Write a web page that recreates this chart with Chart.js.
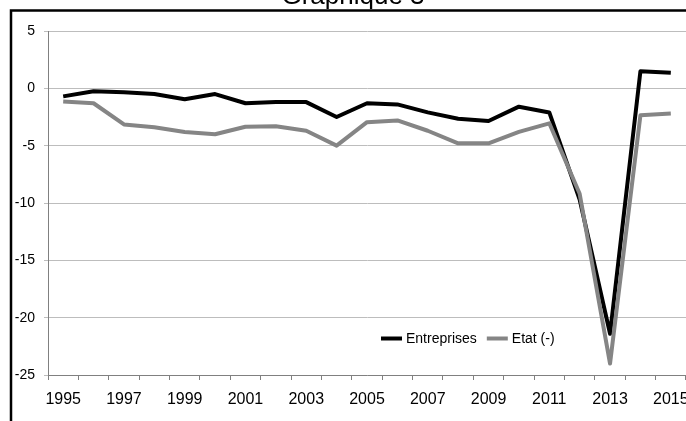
<!DOCTYPE html>
<html>
<head>
<meta charset="utf-8">
<title>Graphique 3</title>
<script src="https://cdn.jsdelivr.net/npm/chart.js@4.4.1/dist/chart.umd.min.js"></script>
<style>
  html, body { margin: 0; padding: 0; background: #fff; overflow: hidden; }
  #chart { display: block; }
</style>
</head>
<body>
<canvas id="chart" width="686" height="421"></canvas>
<script>
const years = ["1995","1996","1997","1998","1999","2000","2001","2002","2003","2004","2005",
  "2006","2007","2008","2009","2010","2011","2012","2013","2014","2015"];
const entreprises = [-0.7, -0.25, -0.35, -0.5, -0.95, -0.5, -1.3, -1.2, -1.2, -2.5, -1.3,
  -1.4, -2.1, -2.65, -2.85, -1.6, -2.1, -9.7, -21.4, 1.5, 1.35];
const etat = [-1.15, -1.3, -3.15, -3.4, -3.8, -4.0, -3.35, -3.3, -3.7, -5.0, -2.95,
  -2.8, -3.7, -4.8, -4.8, -3.8, -3.05, -9.2, -24.0, -2.35, -2.2];
const yTicks = [5, 0, -5, -10, -15, -20, -25];
const title = "Graphique 3";

const font = "'Liberation Sans', Arial, sans-serif";
const ctx = document.getElementById("chart");

// frame + title (the title is cut off at the top, like the picture)
const framePlugin = {
  id: "frame",
  beforeDraw(chart) {
    const c = chart.ctx;
    c.save();
    c.fillStyle = "#000";
    c.font = "26px " + font;
    c.textAlign = "center";
    c.textBaseline = "alphabetic";
    c.fillText(title, 353, 4);
    c.fillStyle = "#fff";
    c.fillRect(11, 11, 686, 421);
    c.strokeStyle = "#000";
    c.lineWidth = 2.5;
    c.beginPath();
    c.moveTo(11, 421);
    c.lineTo(11, 10.5);
    c.lineTo(686, 10.5);
    c.stroke();
    c.restore();
  }
};

// legend sits inside the plot, bottom right
const legendPlugin = {
  id: "insideLegend",
  afterDatasetsDraw(chart) {
    const c = chart.ctx;
    let x = 381;
    const y = 338.5;
    c.save();
    c.font = "14px " + font;
    c.textBaseline = "middle";
    chart.data.datasets.forEach((ds) => {
      c.strokeStyle = ds.borderColor;
      c.lineWidth = 4;
      c.beginPath();
      c.moveTo(x, y);
      c.lineTo(x + 21, y);
      c.stroke();
      c.fillStyle = "#000";
      c.fillText(ds.label, x + 25, y + 1);
      x += 25 + c.measureText(ds.label).width + 10;
    });
    c.restore();
  }
};

new Chart(ctx, {
  type: "line",
  data: {
    labels: years,
    datasets: [
      {
        label: "Entreprises",
        data: entreprises,
        borderColor: "#000000",
        backgroundColor: "#000000",
        borderWidth: 4,
        pointRadius: 0,
        borderJoinStyle: "round",
        tension: 0,
        order: 1
      },
      {
        label: "Etat (-)",
        data: etat,
        borderColor: "#858585",
        backgroundColor: "#858585",
        borderWidth: 4,
        pointRadius: 0,
        borderJoinStyle: "round",
        tension: 0,
        order: 0
      }
    ]
  },
  options: {
    responsive: false,
    animation: false,
    layout: { padding: { top: 31, right: 0, left: 0, bottom: 0 } },
    plugins: {
      legend: { display: false },
      title: { display: false },
      tooltip: { enabled: false }
    },
    scales: {
      x: {
        offset: true,
        grid: {
          offset: true,
          drawOnChartArea: false,
          drawTicks: true,
          tickLength: 5,
          color: "#808080"
        },
        border: { color: "#808080", width: 1 },
        ticks: {
          autoSkip: false,
          maxRotation: 0,
          padding: 10,
          color: "#000",
          font: { family: font, size: 16 },
          callback: function (value, index) {
            return index % 2 === 0 ? this.getLabelForValue(value) : "";
          }
        },
        afterFit(scale) {
          scale.height = 46;
          scale.paddingLeft = 0;
          scale.paddingRight = 0;
        }
      },
      y: {
        min: yTicks[yTicks.length - 1],
        max: yTicks[0],
        afterBuildTicks(scale) {
          scale.ticks = yTicks.map((v) => ({ value: v }));
        },
        grid: {
          color: "#bdbdbd",
          lineWidth: 1,
          tickLength: 4,
          drawTicks: true
        },
        border: { color: "#808080", width: 1 },
        ticks: {
          padding: 9,
          color: "#000",
          font: { family: font, size: 14 }
        },
        afterFit(scale) {
          scale.width = 48;
        }
      }
    }
  },
  plugins: [framePlugin, legendPlugin]
});
</script>
</body>
</html>
